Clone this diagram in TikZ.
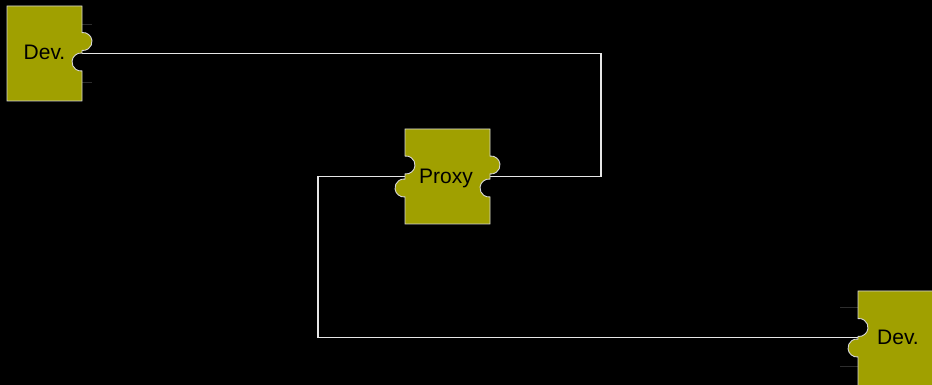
\documentclass[tikz,border=0pt]{standalone}
\usepackage{fontspec}
\setmainfont{Liberation Sans}
\definecolor{piecefill}{RGB}{160,160,0}
\definecolor{pieceedge}{RGB}{215,215,215}
\definecolor{wirecol}{RGB}{230,230,230}
\definecolor{stubcol}{RGB}{45,45,45}
\tikzset{
  piece/.style={fill=piecefill,draw=pieceedge,line width=0.9pt},
  wire/.style={draw=wirecol,line width=1.9pt},
  stub/.style={draw=stubcol,line width=1pt},
  label/.style={font=\fontsize{21}{25}\selectfont,text=black,inner sep=0pt}
}
\begin{document}
\begin{tikzpicture}[x=1pt,y=1pt]
\fill[black] (0,0) rectangle (932,385);
\useasboundingbox (0,0) rectangle (932,385);
% port coordinates
\coordinate (d1p) at (82,331.5);
\coordinate (prp) at (490,208.5);
\coordinate (plp) at (405,208.5);
\coordinate (d2p) at (858,47.5);
\coordinate (c1) at (601,331.5);
\coordinate (c2) at (318,208.5);
% connectors
\draw[wire] (d1p) -- (c1) |- (prp);
\draw[wire] (plp) -- (c2) |- (d2p);
% faint stubs
\draw[stub] (82,360) -- (92,360);
\draw[stub] (82,302) -- (92,302);
\draw[stub] (840,77) -- (858,77);
\draw[stub] (840,18) -- (858,18);
% Dev. (top left)
\draw[piece] (7,379) -- (82,379) -- (82,352.44)
  arc[start angle=96.4,end angle=-96.4,radius=9] -- (82,331.94)
  arc[start angle=83.6,end angle=276.4,radius=9] -- (82,284) -- (7,284) -- cycle;
% Proxy
\draw[piece] (405,256) -- (490,256) -- (490,228.94)
  arc[start angle=96.4,end angle=-96.4,radius=9] -- (490,205.94)
  arc[start angle=83.6,end angle=276.4,radius=9] -- (490,161) -- (405,161) -- (405,188.06)
  arc[start angle=276.4,end angle=83.6,radius=9] -- (405,211.06)
  arc[start angle=-96.4,end angle=96.4,radius=9] -- cycle;
% Dev. (bottom right)
\draw[piece] (858,94) -- (940,94) -- (940,-5) -- (858,-5) -- (858,28.06)
  arc[start angle=276.4,end angle=83.6,radius=9] -- (858,48.56)
  arc[start angle=-96.4,end angle=96.4,radius=9] -- cycle;
% labels
\node[label] (dev1) at (44.5,333) {Dev.};
\node[label] (proxy) at (446,207) {Proxy};
\node[label] (dev2) at (898,48) {Dev.};
\end{tikzpicture}
\end{document}
